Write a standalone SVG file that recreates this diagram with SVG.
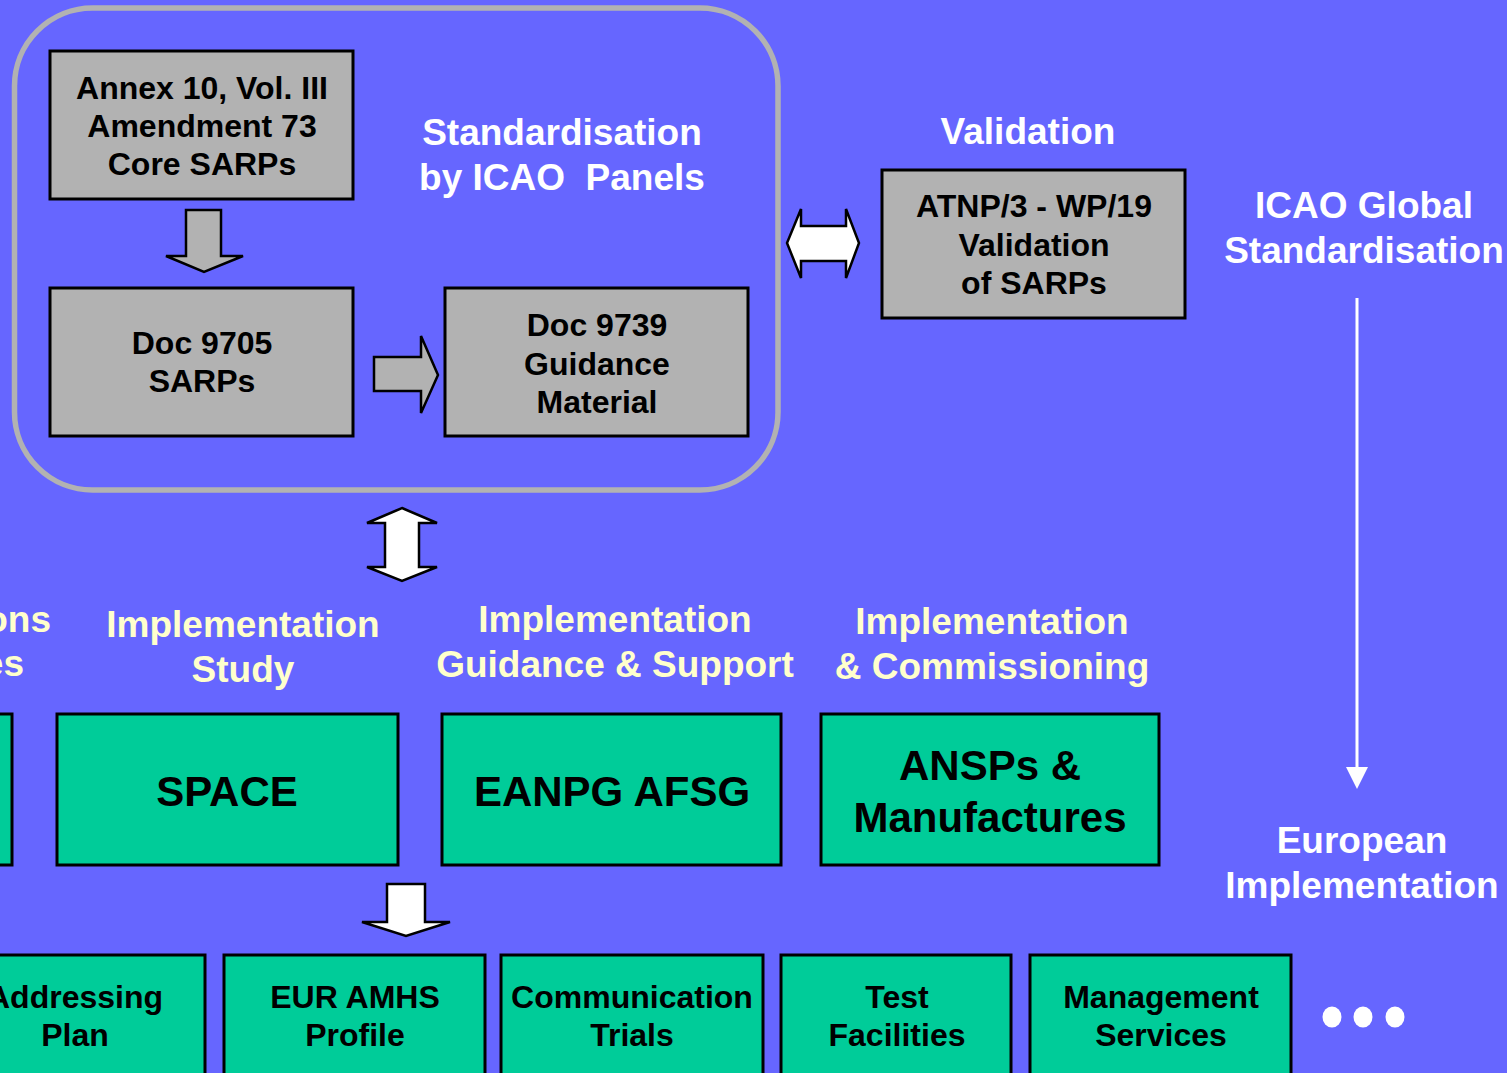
<svg xmlns="http://www.w3.org/2000/svg" width="1507" height="1073" viewBox="0 0 1507 1073">
<style>
text{font-family:"Liberation Sans",Arial,sans-serif;font-weight:bold;text-anchor:middle}
.g{fill:#B2B2B2;stroke:#000;stroke-width:3}
.n{fill:#00CC99;stroke:#000;stroke-width:3}
.t32{font-size:32px;fill:#000}
.t42{font-size:42px;fill:#000}
.w{font-size:37px;fill:#FFFFFF}
.y{font-size:37px;fill:#FFFFCC}
.ga{fill:#B2B2B2;stroke:#000;stroke-width:2.5;stroke-linejoin:miter}
.wa{fill:#FFFFFF;stroke:#000;stroke-width:2.5;stroke-linejoin:miter}
</style>
<rect x="0" y="0" width="1507" height="1073" fill="#6666FF"/>

<g id="panel">
<rect x="14.5" y="8" width="763.5" height="482" rx="78" ry="78" fill="none" stroke="#B2B2B2" stroke-width="5.5"/>
<text class="w" x="562" y="145">Standardisation</text>
<text class="w" x="562" y="190" xml:space="preserve">by ICAO  Panels</text>
</g>

<g id="annex10">
<rect class="g" x="50" y="51" width="303" height="148"/>
<text class="t32" x="202" y="99">Annex 10, Vol. III</text>
<text class="t32" x="202" y="137">Amendment 73</text>
<text class="t32" x="202" y="175">Core SARPs</text>
</g>

<g id="doc9705">
<rect class="g" x="50" y="288" width="303" height="148"/>
<text class="t32" x="202" y="354">Doc 9705</text>
<text class="t32" x="202" y="392">SARPs</text>
</g>

<g id="doc9739">
<rect class="g" x="445" y="288" width="303" height="148"/>
<text class="t32" x="597" y="336">Doc 9739</text>
<text class="t32" x="597" y="375">Guidance</text>
<text class="t32" x="597" y="413">Material</text>
</g>

<g id="validation">
<text class="w" x="1028" y="144">Validation</text>
<rect class="g" x="882" y="170" width="303" height="148"/>
<text class="t32" x="1034" y="217">ATNP/3 - WP/19</text>
<text class="t32" x="1034" y="256">Validation</text>
<text class="t32" x="1034" y="294">of SARPs</text>
</g>

<g id="icao-global">
<text class="w" x="1364" y="218">ICAO Global</text>
<text class="w" x="1364" y="263">Standardisation</text>
</g>

<g id="european">
<text class="w" x="1362" y="853">European</text>
<text class="w" x="1362" y="898">Implementation</text>
</g>

<g id="headers">
<text class="y" x="51" y="632" style="text-anchor:end">ons</text>
<text class="y" x="24" y="676" style="text-anchor:end">es</text>
<text class="y" x="243" y="637">Implementation</text>
<text class="y" x="243" y="682">Study</text>
<text class="y" x="615" y="632">Implementation</text>
<text class="y" x="615" y="677">Guidance &amp; Support</text>
<text class="y" x="992" y="634">Implementation</text>
<text class="y" x="992" y="679">&amp; Commissioning</text>
</g>

<g id="left-partial">
<rect class="n" x="-30" y="714" width="42" height="151"/>
</g>
<g id="space">
<rect class="n" x="57" y="714" width="341" height="151"/>
<text class="t42" x="227" y="806">SPACE</text>
</g>
<g id="eanpg">
<rect class="n" x="442" y="714" width="339" height="151"/>
<text class="t42" x="612" y="806">EANPG AFSG</text>
</g>
<g id="ansps">
<rect class="n" x="821" y="714" width="338" height="151"/>
<text class="t42" x="990" y="780">ANSPs &amp;</text>
<text class="t42" x="990" y="832">Manufactures</text>
</g>

<g id="addressing">
<rect class="n" x="-56" y="955" width="261" height="140"/>
<text class="t32" x="75" y="1008">Addressing</text>
<text class="t32" x="75" y="1046">Plan</text>
</g>
<g id="amhs">
<rect class="n" x="224" y="955" width="261" height="140"/>
<text class="t32" x="355" y="1008">EUR AMHS</text>
<text class="t32" x="355" y="1046">Profile</text>
</g>
<g id="comm">
<rect class="n" x="501" y="955" width="262" height="140"/>
<text class="t32" x="632" y="1008">Communication</text>
<text class="t32" x="632" y="1046">Trials</text>
</g>
<g id="test">
<rect class="n" x="781" y="955" width="230" height="140"/>
<text class="t32" x="897" y="1008">Test</text>
<text class="t32" x="897" y="1046">Facilities</text>
</g>
<g id="mgmt">
<rect class="n" x="1030" y="955" width="261" height="140"/>
<text class="t32" x="1161" y="1008">Management</text>
<text class="t32" x="1161" y="1046">Services</text>
</g>
<g id="dots" fill="#FFFFFF">
<ellipse cx="1332" cy="1017" rx="9.5" ry="10.5"/>
<ellipse cx="1363" cy="1017" rx="9.5" ry="10.5"/>
<ellipse cx="1395" cy="1017" rx="9.5" ry="10.5"/>
</g>

<g id="connectors">
<polygon class="ga" points="186,210 221,210 221,256 243,256 204,272 166,256 186,256"/>
<polygon class="ga" points="374,357 421,357 421,336 438,375 421,413 421,391 374,391"/>
<polygon class="wa" points="787,243 801,209 801,226 846,226 846,209 859,243 846,278 846,261 801,261 801,278"/>
<polygon class="wa" points="402,508 437,523 419,523 419,567 437,567 402,581 367,567 385,567 385,523 367,523"/>
<polygon class="wa" points="387,884 425,884 425,922 450,922 406,936 362,922 387,922"/>
<line x1="1357" y1="298" x2="1357" y2="770" stroke="#FFFFFF" stroke-width="3"/>
<polygon points="1346,767 1368,767 1357,789" fill="#FFFFFF"/>
</g>
</svg>
